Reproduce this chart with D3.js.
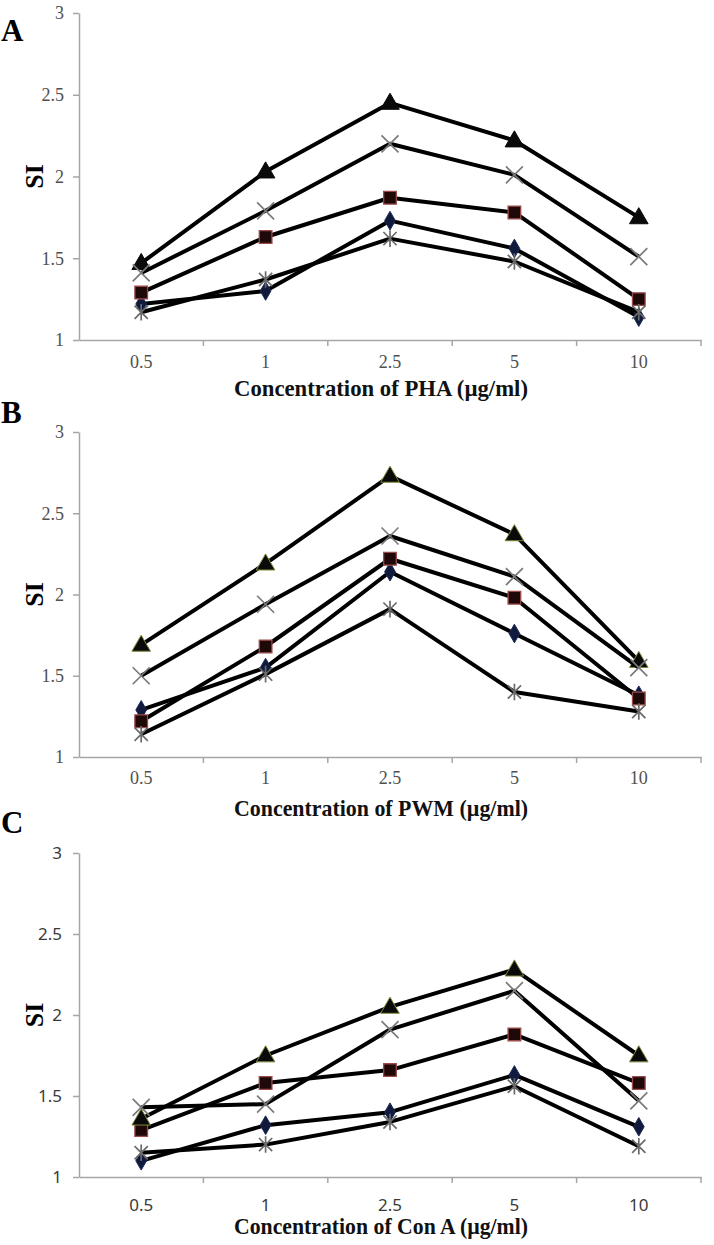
<!DOCTYPE html>
<html>
<head>
<meta charset="utf-8">
<script src="https://cdn.jsdelivr.net/npm/d3@7"></script>
<style>
  body { margin: 0; background: #fff; }
  svg { display: block; }
</style>
</head>
<body>
<script>
// Concentrations (x categories), same for every panel
const concentrations = ["0.5", "1", "2.5", "5", "10"];
const yTicks = [1, 1.5, 2, 2.5, 3];

// Series order as drawn by the spreadsheet: diamond, square, triangle, x, star
const seriesNames = ["diamond", "square", "triangle", "cross", "star"];

// Panel A: PHA
const phaDiamond  = [1.22, 1.30, 1.73, 1.56, 1.14];
const phaSquare   = [1.29, 1.63, 1.87, 1.78, 1.25];
const phaTriangle = [1.47, 2.03, 2.45, 2.22, 1.75];
const phaCross    = [1.41, 1.79, 2.20, 2.01, 1.51];
const phaStar     = [1.17, 1.37, 1.62, 1.48, 1.17];

// Panel B: PWM
const pwmDiamond  = [1.29, 1.55, 2.14, 1.76, 1.38];
const pwmSquare   = [1.22, 1.68, 2.22, 1.98, 1.36];
const pwmTriangle = [1.69, 2.19, 2.73, 2.37, 1.59];
const pwmCross    = [1.50, 1.94, 2.36, 2.11, 1.55];
const pwmStar     = [1.14, 1.51, 1.91, 1.40, 1.28];

// Panel C: Con A
const conDiamond  = [1.10, 1.32, 1.40, 1.63, 1.31];
const conSquare   = [1.29, 1.58, 1.66, 1.88, 1.58];
const conTriangle = [1.36, 1.75, 2.05, 2.28, 1.75];
const conCross    = [1.43, 1.45, 1.91, 2.15, 1.47];
const conStar     = [1.15, 1.20, 1.34, 1.56, 1.19];

const width = 714, height = 1245;

const svg = d3.select("body").append("svg")
  .attr("width", width)
  .attr("height", height);

// Excel style star: X with a vertical bar
const symbolStar = {
  draw(context, size) {
    const r = Math.sqrt(size) * 0.6;
    const d = r * 0.8;
    context.moveTo(0, -r); context.lineTo(0, r);
    context.moveTo(-d, -d); context.lineTo(d, d);
    context.moveTo(-d, d); context.lineTo(d, -d);
  }
};

const markerStyle = {
  diamond:  { type: d3.symbolDiamond,  size: 100, fill: "#101a3c", stroke: "#1c2a55", sw: 1 },
  square:   { type: d3.symbolSquare,   size: 160, fill: "#1e0808", stroke: "#9a4a48", sw: 1.3 },
  triangle: { type: d3.symbolTriangle, size: 150, fill: "#0a0a0a", stroke: "#0a0a0a", sw: 1 },
  cross:    { type: d3.symbolX,        size: 190, fill: "none",    stroke: "#7a7a7a", sw: 1.7 },
  star:     { type: symbolStar,        size: 190, fill: "none",    stroke: "#6a6a6a", sw: 1.7 }
};

const panels = [
  { letter: "A", letterY: 30, top: 13, bottom: 340, labelY: 362, titleY: 388,
    title: "Concentration  of PHA (\u00b5g/ml)", sans: false, triEdge: "#0a0a0a",
    values: [phaDiamond, phaSquare, phaTriangle, phaCross, phaStar] },
  { letter: "B", letterY: 412, top: 432, bottom: 757, labelY: 778, titleY: 808,
    title: "Concentration  of PWM (\u00b5g/ml)", sans: false, triEdge: "#7d8a3a",
    values: [pwmDiamond, pwmSquare, pwmTriangle, pwmCross, pwmStar] },
  { letter: "C", letterY: 822, top: 853, bottom: 1177, labelY: 1205, titleY: 1226,
    title: "Concentration  of Con A (\u00b5g/ml)", sans: true, triEdge: "#7d8a3a",
    values: [conDiamond, conSquare, conTriangle, conCross, conStar] }
];

const left = 79, right = 701;
const axisColor = "#a6a6a6";

panels.forEach(p => {
  const g = svg.append("g");
  const tickFont = p.sans ? "'Noto Sans', 'Open Sans', sans-serif" : "'Liberation Serif', 'Times New Roman', serif";
  const tickSize = p.sans ? 17 : 18;
  const tickFill = p.sans ? "#3a3a3a" : "#505050";

  const x = d3.scaleBand().domain(concentrations).range([left, right]);
  const y = d3.scaleLinear().domain([1, 3]).range([p.bottom, p.top]);

  // y axis
  const yAxis = g.append("g")
    .attr("transform", `translate(${left},0)`)
    .call(d3.axisLeft(y).tickValues(yTicks).tickFormat(d => d).tickSize(6).tickSizeOuter(0).tickPadding(p.sans ? 11 : 9));
  yAxis.select(".domain").attr("stroke", axisColor).attr("stroke-width", 1.5);
  yAxis.selectAll(".tick line").attr("stroke", axisColor).attr("stroke-width", 1.5);
  yAxis.selectAll(".tick text")
    .attr("font-family", tickFont)
    .attr("font-size", tickSize)
    .attr("fill", tickFill);

  // x axis: labels at band centres, tick marks on band edges
  const xAxis = g.append("g")
    .attr("transform", `translate(0,${p.bottom})`)
    .call(d3.axisBottom(x).tickSize(0).tickSizeOuter(0).tickPadding(0));
  xAxis.select(".domain").attr("stroke", axisColor).attr("stroke-width", 1.5);
  xAxis.selectAll(".tick text")
    .attr("y", p.labelY - p.bottom)
    .attr("dy", "0.35em")
    .attr("font-family", tickFont)
    .attr("font-size", tickSize)
    .attr("fill", tickFill);

  const edges = concentrations.map(c => x(c)).concat([x.range()[1]]).slice(1);
  xAxis.selectAll(".edge")
    .data(edges)
    .join("line")
    .attr("class", "edge")
    .attr("x1", d => d).attr("x2", d => d)
    .attr("y1", 0).attr("y2", 6)
    .attr("stroke", axisColor)
    .attr("stroke-width", 1.5);

  // series: line then markers
  const line = d3.line()
    .x((d, i) => x(concentrations[i]) + x.bandwidth() / 2)
    .y(d => y(d));

  p.values.forEach((vals, si) => {
    const name = seriesNames[si];
    const st = markerStyle[name];
    g.append("path")
      .datum(vals)
      .attr("d", line)
      .attr("fill", "none")
      .attr("stroke", "#000")
      .attr("stroke-width", 4)
      .attr("stroke-linejoin", "round");

    g.append("g")
      .selectAll("path")
      .data(vals)
      .join("path")
      .attr("transform", (d, i) => {
        const dy = name === "triangle" ? 1 : 0;
        return `translate(${x(concentrations[i]) + x.bandwidth() / 2},${y(d) + dy})`;
      })
      .attr("d", d3.symbol().type(st.type).size(st.size))
      .attr("fill", st.fill)
      .attr("stroke", name === "triangle" ? p.triEdge : st.stroke)
      .attr("stroke-width", st.sw);
  });

  // panel letter
  svg.append("text")
    .attr("x", 1)
    .attr("y", p.letterY)
    .attr("dy", "0.35em")
    .attr("font-family", "'Liberation Serif', serif")
    .attr("font-weight", "bold")
    .attr("font-size", 31)
    .text(p.letter);

  // y label
  svg.append("text")
    .attr("transform", `translate(34,${(p.top + p.bottom) / 2}) rotate(-90)`)
    .attr("text-anchor", "middle")
    .attr("dy", "0.35em")
    .attr("font-family", "'Liberation Serif', serif")
    .attr("font-weight", "bold")
    .attr("font-size", 26)
    .text("SI");

  // x title
  svg.append("text")
    .attr("x", 381)
    .attr("y", p.titleY)
    .attr("dy", "0.35em")
    .attr("text-anchor", "middle")
    .attr("font-family", "'Liberation Serif', serif")
    .attr("font-weight", "bold")
    .attr("font-size", 23)
    .attr("textLength", 294)
    .attr("lengthAdjust", "spacingAndGlyphs")
    .attr("fill", "#111")
    .text(p.title);
});
</script>
</body>
</html>
